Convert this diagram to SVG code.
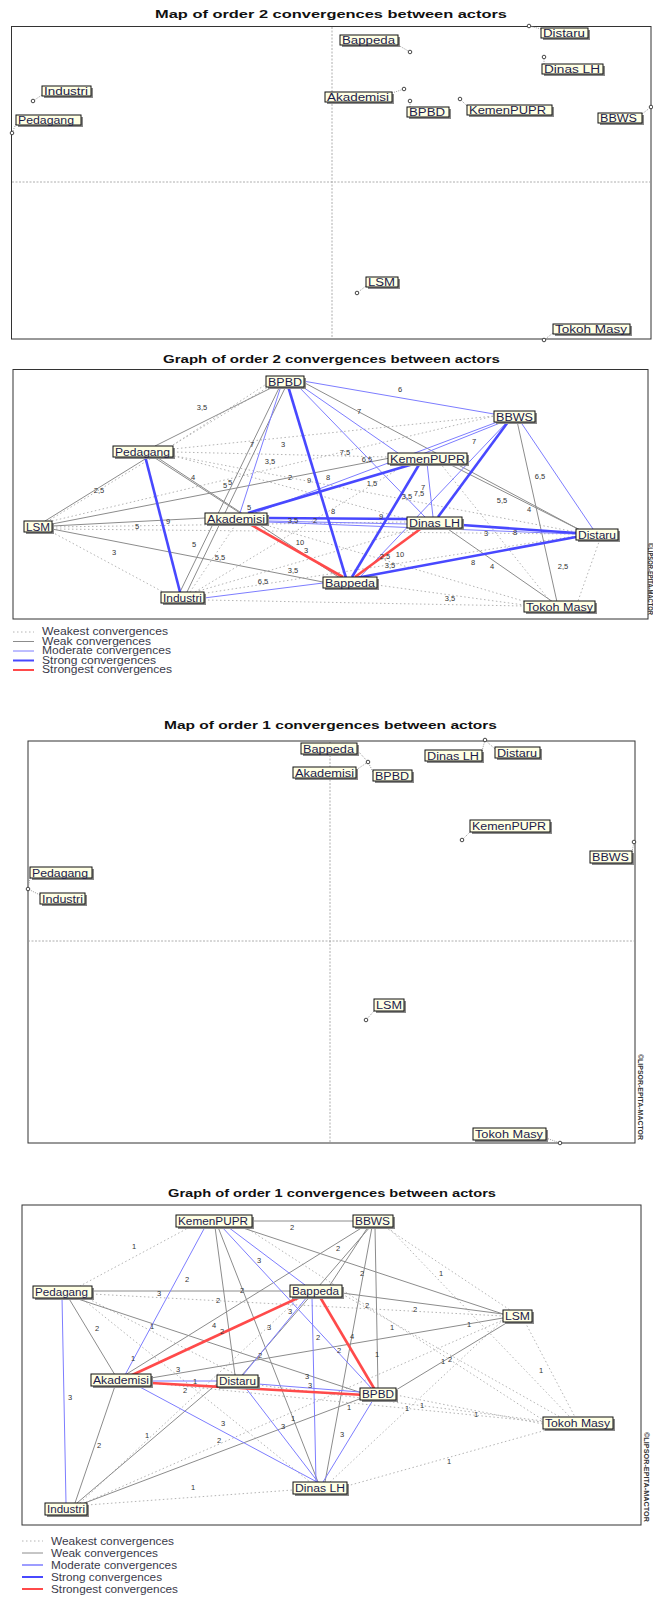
<svg xmlns="http://www.w3.org/2000/svg" width="653" height="1599" viewBox="0 0 653 1599">
<style>
text{font-family:"Liberation Sans",Arial,sans-serif}
.bg{fill:#fff}
.fr{fill:none;stroke:#333;stroke-width:1}
.ax{stroke:#9a9a9a;stroke-width:.8;stroke-dasharray:2,1.5}
.w0{stroke:#b4b4b4;stroke-width:1;stroke-dasharray:1.5,2.5;fill:none}
.w1{stroke:#8c8c8c;stroke-width:1;fill:none}
.w2{stroke:#7d7dff;stroke-width:1;fill:none}
.w3{stroke:#4848ff;stroke-width:2.6;fill:none}
.w4{stroke:#ff4a4a;stroke-width:2.6;fill:none}
.ld{stroke:#9a9a9a;stroke-width:1;stroke-dasharray:1,1.2}
.pt{fill:#fff;stroke:#444;stroke-width:1}
.sh{fill:#8a8a8a}
.nb{fill:#ffffe4;stroke:#111;stroke-width:1}
.nt{font-size:10px;fill:#1c1c4c}
.ti{font-size:11.5px;font-weight:bold;fill:#111}
.el{font-size:7.5px;fill:#333;text-anchor:middle}
.lg{font-size:10px;fill:#3a3a4a}
.wm{font-size:6.5px;font-weight:bold;fill:#333}
</style>
<rect class="bg" x="0" y="0" width="653" height="1599"/>

<!-- ===== Map of order 2 ===== -->
<text class="ti" x="155" y="18" textLength="352" lengthAdjust="spacingAndGlyphs">Map of order 2 convergences between actors</text>
<rect class="fr" x="11.5" y="26.5" width="639.5" height="312.5"/>
<line class="ax" x1="332" y1="27" x2="332" y2="339"/>
<line class="ax" x1="12" y1="182" x2="651" y2="182"/>
<g id="map2-leaders">
<line class="ld" x1="398" y1="45" x2="410" y2="52"/>
<line class="ld" x1="541" y1="29" x2="529" y2="26"/>
<line class="ld" x1="544" y1="64" x2="544" y2="57"/>
<line class="ld" x1="42" y1="95" x2="33" y2="101"/>
<line class="ld" x1="16" y1="124" x2="12" y2="133"/>
<line class="ld" x1="392" y1="93" x2="404" y2="89"/>
<line class="ld" x1="410" y1="107" x2="410" y2="101"/>
<line class="ld" x1="467" y1="106" x2="460" y2="99"/>
<line class="ld" x1="642" y1="114" x2="651" y2="107"/>
<line class="ld" x1="366" y1="286" x2="357" y2="293"/>
<line class="ld" x1="553" y1="333" x2="544" y2="340"/>
</g>
<g id="map2-points">
<circle class="pt" cx="410" cy="52" r="1.8"/>
<circle class="pt" cx="529" cy="26" r="1.8"/>
<circle class="pt" cx="544" cy="57" r="1.8"/>
<circle class="pt" cx="33" cy="101" r="1.8"/>
<circle class="pt" cx="12" cy="133" r="1.8"/>
<circle class="pt" cx="404" cy="89" r="1.8"/>
<circle class="pt" cx="410" cy="101" r="1.8"/>
<circle class="pt" cx="460" cy="99" r="1.8"/>
<circle class="pt" cx="651" cy="107" r="1.8"/>
<circle class="pt" cx="357" cy="293" r="1.8"/>
<circle class="pt" cx="544" cy="340" r="1.8"/>
</g>
<g id="map2-bappeda"><rect class="sh" x="342" y="37" width="58" height="10"/><rect class="nb" x="340" y="35" width="58" height="10"/><text class="nt" x="342" y="44" textLength="53" lengthAdjust="spacingAndGlyphs">Bappeda</text></g>
<g id="map2-distaru"><rect class="sh" x="543" y="30" width="47" height="10"/><rect class="nb" x="541" y="28" width="47" height="10"/><text class="nt" x="543" y="37" textLength="42" lengthAdjust="spacingAndGlyphs">Distaru</text></g>
<g id="map2-dinaslh"><rect class="sh" x="544" y="66" width="61" height="10"/><rect class="nb" x="542" y="64" width="61" height="10"/><text class="nt" x="544" y="73" textLength="56" lengthAdjust="spacingAndGlyphs">Dinas LH</text></g>
<g id="map2-industri"><rect class="sh" x="44" y="88" width="49" height="10"/><rect class="nb" x="42" y="86" width="49" height="10"/><text class="nt" x="44" y="95" textLength="44" lengthAdjust="spacingAndGlyphs">Industri</text></g>
<g id="map2-pedagang"><rect class="sh" x="18" y="117" width="65" height="10"/><rect class="nb" x="16" y="115" width="65" height="10"/><text class="nt" x="18" y="124" textLength="56" lengthAdjust="spacingAndGlyphs">Pedagang</text></g>
<g id="map2-akademisi"><rect class="sh" x="327" y="94" width="67" height="10"/><rect class="nb" x="325" y="92" width="67" height="10"/><text class="nt" x="327" y="101" textLength="62" lengthAdjust="spacingAndGlyphs">Akademisi</text></g>
<g id="map2-bpbd"><rect class="sh" x="409" y="109" width="42" height="10"/><rect class="nb" x="407" y="107" width="42" height="10"/><text class="nt" x="409" y="116" textLength="36" lengthAdjust="spacingAndGlyphs">BPBD</text></g>
<g id="map2-kemenpupr"><rect class="sh" x="469" y="107" width="85" height="10"/><rect class="nb" x="467" y="105" width="85" height="10"/><text class="nt" x="469" y="114" textLength="77" lengthAdjust="spacingAndGlyphs">KemenPUPR</text></g>
<g id="map2-bbws"><rect class="sh" x="600" y="115" width="44" height="10"/><rect class="nb" x="598" y="113" width="44" height="10"/><text class="nt" x="600" y="122" textLength="37" lengthAdjust="spacingAndGlyphs">BBWS</text></g>
<g id="map2-lsm"><rect class="sh" x="368" y="279" width="32" height="10"/><rect class="nb" x="366" y="277" width="32" height="10"/><text class="nt" x="368" y="286" textLength="27" lengthAdjust="spacingAndGlyphs">LSM</text></g>
<g id="map2-tokohmasy"><rect class="sh" x="555" y="326" width="77" height="10"/><rect class="nb" x="553" y="324" width="77" height="10"/><text class="nt" x="555" y="333" textLength="72" lengthAdjust="spacingAndGlyphs">Tokoh Masy</text></g>

<!-- ===== Graph of order 2 ===== -->
<text class="ti" x="163" y="363" textLength="337" lengthAdjust="spacingAndGlyphs">Graph of order 2 convergences between actors</text>
<rect class="fr" x="13" y="369.5" width="635" height="249.5"/>
<g id="graph2-connectors">
<line class="w0" x1="270" y1="386" x2="48" y2="521"/>
<line class="w0" x1="268" y1="383" x2="170" y2="447"/>
<line class="w0" x1="173" y1="452" x2="388" y2="457"/>
<line class="w0" x1="173" y1="449" x2="494" y2="416"/>
<line class="w0" x1="170" y1="455" x2="410" y2="520"/>
<line class="w0" x1="170" y1="455" x2="576" y2="532"/>
<line class="w0" x1="48" y1="530" x2="165" y2="593"/>
<line class="w0" x1="52" y1="527" x2="407" y2="522"/>
<line class="w0" x1="52" y1="529" x2="576" y2="534"/>
<line class="w0" x1="52" y1="521" x2="494" y2="416"/>
<line class="w0" x1="195" y1="592" x2="420" y2="527"/>
<line class="w0" x1="200" y1="594" x2="576" y2="536"/>
<line class="w0" x1="195" y1="592" x2="410" y2="462"/>
<line class="w0" x1="204" y1="600" x2="524" y2="606"/>
<line class="w0" x1="377" y1="585" x2="524" y2="605"/>
<line class="w0" x1="600" y1="539" x2="578" y2="601"/>
<line class="w0" x1="262" y1="524" x2="530" y2="603"/>
<line class="w0" x1="440" y1="463" x2="550" y2="601"/>
<line class="w0" x1="190" y1="592" x2="236" y2="524"/>
<line class="w1" x1="275" y1="386" x2="155" y2="446"/>
<line class="w1" x1="280" y1="386" x2="180" y2="592"/>
<line class="w1" x1="286" y1="386" x2="187" y2="592"/>
<line class="w1" x1="303" y1="382" x2="580" y2="530"/>
<line class="w1" x1="150" y1="456" x2="45" y2="521"/>
<line class="w1" x1="152" y1="456" x2="240" y2="513"/>
<line class="w1" x1="155" y1="456" x2="340" y2="578"/>
<line class="w1" x1="52" y1="524" x2="390" y2="458"/>
<line class="w1" x1="52" y1="526" x2="205" y2="518"/>
<line class="w1" x1="52" y1="529" x2="323" y2="582"/>
<line class="w1" x1="445" y1="462" x2="580" y2="530"/>
<line class="w1" x1="517" y1="421" x2="557" y2="602"/>
<line class="w1" x1="445" y1="527" x2="553" y2="602"/>
<line class="w2" x1="303" y1="381" x2="494" y2="414"/>
<line class="w2" x1="298" y1="386" x2="425" y2="517"/>
<line class="w2" x1="300" y1="385" x2="398" y2="453"/>
<line class="w2" x1="281" y1="386" x2="240" y2="513"/>
<line class="w2" x1="520" y1="421" x2="593" y2="529"/>
<line class="w2" x1="505" y1="421" x2="420" y2="455"/>
<line class="w2" x1="500" y1="421" x2="255" y2="513"/>
<line class="w2" x1="508" y1="421" x2="360" y2="577"/>
<line class="w2" x1="427" y1="463" x2="433" y2="517"/>
<line class="w2" x1="204" y1="598" x2="323" y2="583"/>
<line class="w2" x1="267" y1="522" x2="576" y2="534"/>
<line class="w2" x1="267" y1="521" x2="407" y2="524"/>
<line class="w3" x1="145" y1="456" x2="180" y2="592"/>
<line class="w3" x1="288" y1="386" x2="346" y2="578"/>
<line class="w3" x1="248" y1="513" x2="420" y2="462"/>
<line class="w3" x1="267" y1="518" x2="407" y2="519"/>
<line class="w3" x1="420" y1="463" x2="352" y2="577"/>
<line class="w3" x1="508" y1="422" x2="438" y2="517"/>
<line class="w3" x1="462" y1="525" x2="576" y2="533"/>
<line class="w3" x1="356" y1="578" x2="576" y2="537"/>
<line class="w4" x1="248" y1="523" x2="343" y2="577"/>
<line class="w4" x1="423" y1="527" x2="355" y2="577"/>
<g id="graph2-edge-labels">
<text class="el" x="202" y="410">3,5</text>
<text class="el" x="252" y="447">7</text>
<text class="el" x="283" y="447">3</text>
<text class="el" x="270" y="464">3,5</text>
<text class="el" x="193" y="480">4</text>
<text class="el" x="225" y="488">5</text>
<text class="el" x="230" y="485">5</text>
<text class="el" x="290" y="480">2</text>
<text class="el" x="309" y="483">9</text>
<text class="el" x="328" y="480">8</text>
<text class="el" x="99" y="493">2,5</text>
<text class="el" x="249" y="510">5</text>
<text class="el" x="168" y="524">9</text>
<text class="el" x="137" y="529">5</text>
<text class="el" x="293" y="523">3,5</text>
<text class="el" x="315" y="523">2</text>
<text class="el" x="194" y="547">5</text>
<text class="el" x="114" y="555">3</text>
<text class="el" x="300" y="545">10</text>
<text class="el" x="306" y="553">3</text>
<text class="el" x="220" y="560">5,5</text>
<text class="el" x="293" y="573">3,5</text>
<text class="el" x="263" y="584">6,5</text>
<text class="el" x="400" y="392">6</text>
<text class="el" x="359" y="414">7</text>
<text class="el" x="474" y="444">7</text>
<text class="el" x="345" y="455">7,5</text>
<text class="el" x="367" y="462">6,5</text>
<text class="el" x="540" y="479">6,5</text>
<text class="el" x="372" y="486">1,5</text>
<text class="el" x="423" y="490">7</text>
<text class="el" x="407" y="499">3,5</text>
<text class="el" x="419" y="496">7,5</text>
<text class="el" x="502" y="503">5,5</text>
<text class="el" x="529" y="512">4</text>
<text class="el" x="333" y="514">8</text>
<text class="el" x="381" y="519">9</text>
<text class="el" x="486" y="536">3</text>
<text class="el" x="515" y="535">8</text>
<text class="el" x="385" y="559">2,5</text>
<text class="el" x="400" y="557">10</text>
<text class="el" x="390" y="568">3,5</text>
<text class="el" x="473" y="565">8</text>
<text class="el" x="492" y="569">4</text>
<text class="el" x="563" y="569">2,5</text>
<text class="el" x="450" y="601">3,5</text>
</g>
</g>
<g id="g2-bpbd"><rect class="sh" x="268" y="378" width="38" height="11"/><rect class="nb" x="266" y="376" width="38" height="11"/><text class="nt" x="268" y="385.5" textLength="34" lengthAdjust="spacingAndGlyphs">BPBD</text></g>
<g id="g2-pedagang"><rect class="sh" x="115" y="448" width="60" height="11"/><rect class="nb" x="113" y="446" width="60" height="11"/><text class="nt" x="115" y="455.5" textLength="55" lengthAdjust="spacingAndGlyphs">Pedagang</text></g>
<g id="g2-lsm"><rect class="sh" x="26" y="523" width="28" height="11"/><rect class="nb" x="24" y="521" width="28" height="11"/><text class="nt" x="26" y="530.5" textLength="24" lengthAdjust="spacingAndGlyphs">LSM</text></g>
<g id="g2-akademisi"><rect class="sh" x="207" y="515" width="62" height="11"/><rect class="nb" x="205" y="513" width="62" height="11"/><text class="nt" x="207" y="522.5" textLength="58" lengthAdjust="spacingAndGlyphs">Akademisi</text></g>
<g id="g2-industri"><rect class="sh" x="163" y="594" width="43" height="11"/><rect class="nb" x="161" y="592" width="43" height="11"/><text class="nt" x="163" y="601.5" textLength="39" lengthAdjust="spacingAndGlyphs">Industri</text></g>
<g id="g2-bbws"><rect class="sh" x="496" y="413" width="41" height="11"/><rect class="nb" x="494" y="411" width="41" height="11"/><text class="nt" x="496" y="420.5" textLength="37" lengthAdjust="spacingAndGlyphs">BBWS</text></g>
<g id="g2-kemenpupr"><rect class="sh" x="390" y="455" width="79" height="11"/><rect class="nb" x="388" y="453" width="79" height="11"/><text class="nt" x="390" y="462.5" textLength="75" lengthAdjust="spacingAndGlyphs">KemenPUPR</text></g>
<g id="g2-dinaslh"><rect class="sh" x="409" y="519" width="55" height="11"/><rect class="nb" x="407" y="517" width="55" height="11"/><text class="nt" x="409" y="526.5" textLength="51" lengthAdjust="spacingAndGlyphs">Dinas LH</text></g>
<g id="g2-distaru"><rect class="sh" x="578" y="531" width="42" height="11"/><rect class="nb" x="576" y="529" width="42" height="11"/><text class="nt" x="578" y="538.5" textLength="38" lengthAdjust="spacingAndGlyphs">Distaru</text></g>
<g id="g2-bappeda"><rect class="sh" x="325" y="579" width="54" height="11"/><rect class="nb" x="323" y="577" width="54" height="11"/><text class="nt" x="325" y="586.5" textLength="50" lengthAdjust="spacingAndGlyphs">Bappeda</text></g>
<g id="g2-tokohmasy"><rect class="sh" x="526" y="603" width="71" height="11"/><rect class="nb" x="524" y="601" width="71" height="11"/><text class="nt" x="526" y="610.5" textLength="67" lengthAdjust="spacingAndGlyphs">Tokoh Masy</text></g>
<text class="wm" transform="translate(648,543) rotate(90)" textLength="72" lengthAdjust="spacingAndGlyphs">©LIPSOR-EPITA-MACTOR</text>
<g id="g2-legend">
<line class="w0" x1="13" y1="632" x2="34" y2="632"/>
<line class="w1" x1="13" y1="641.5" x2="34" y2="641.5"/>
<line class="w2" x1="13" y1="651" x2="34" y2="651"/>
<line class="w3" x1="13" y1="660.5" x2="34" y2="660.5" style="stroke-width:2"/>
<line class="w4" x1="13" y1="670" x2="34" y2="670" style="stroke-width:2"/>
<text class="lg" x="42" y="635" textLength="126" lengthAdjust="spacingAndGlyphs">Weakest convergences</text>
<text class="lg" x="42" y="644.5" textLength="109" lengthAdjust="spacingAndGlyphs">Weak convergences</text>
<text class="lg" x="42" y="654" textLength="129" lengthAdjust="spacingAndGlyphs">Moderate convergences</text>
<text class="lg" x="42" y="663.5" textLength="114" lengthAdjust="spacingAndGlyphs">Strong convergences</text>
<text class="lg" x="42" y="673" textLength="130" lengthAdjust="spacingAndGlyphs">Strongest convergences</text>
</g>

<!-- ===== Map of order 1 ===== -->
<text class="ti" x="164" y="729" textLength="333" lengthAdjust="spacingAndGlyphs">Map of order 1 convergences between actors</text>
<rect class="fr" x="28" y="741" width="607" height="402"/>
<line class="ax" x1="330" y1="741" x2="330" y2="1143"/>
<line class="ax" x1="28" y1="941" x2="635" y2="941"/>
<g id="map1-leaders">
<line class="ld" x1="357" y1="750" x2="368" y2="762"/>
<line class="ld" x1="356" y1="770" x2="368" y2="762"/>
<line class="ld" x1="373" y1="772" x2="368" y2="762"/>
<line class="ld" x1="482" y1="751" x2="485" y2="740"/>
<line class="ld" x1="495" y1="749" x2="485" y2="740"/>
<line class="ld" x1="470" y1="832" x2="462" y2="840"/>
<line class="ld" x1="632" y1="852" x2="634" y2="842"/>
<line class="ld" x1="30" y1="878" x2="28" y2="889"/>
<line class="ld" x1="40" y1="895" x2="28" y2="889"/>
<line class="ld" x1="374" y1="1011" x2="366" y2="1020"/>
<line class="ld" x1="546" y1="1138" x2="560" y2="1143"/>
</g>
<g id="map1-points">
<circle class="pt" cx="368" cy="762" r="1.8"/>
<circle class="pt" cx="485" cy="740" r="1.8"/>
<circle class="pt" cx="462" cy="840" r="1.8"/>
<circle class="pt" cx="634" cy="842" r="1.8"/>
<circle class="pt" cx="28" cy="889" r="1.8"/>
<circle class="pt" cx="366" cy="1020" r="1.8"/>
<circle class="pt" cx="560" cy="1143" r="1.8"/>
</g>
<g id="map1-bappeda"><rect class="sh" x="303" y="745" width="56" height="11"/><rect class="nb" x="301" y="743" width="56" height="11"/><text class="nt" x="303" y="752.5" textLength="51" lengthAdjust="spacingAndGlyphs">Bappeda</text></g>
<g id="map1-akademisi"><rect class="sh" x="295" y="769" width="63" height="11"/><rect class="nb" x="293" y="767" width="63" height="11"/><text class="nt" x="295" y="776.5" textLength="59" lengthAdjust="spacingAndGlyphs">Akademisi</text></g>
<g id="map1-bpbd"><rect class="sh" x="375" y="772" width="39" height="11"/><rect class="nb" x="373" y="770" width="39" height="11"/><text class="nt" x="375" y="779.5" textLength="34" lengthAdjust="spacingAndGlyphs">BPBD</text></g>
<g id="map1-dinaslh"><rect class="sh" x="427" y="752" width="57" height="11"/><rect class="nb" x="425" y="750" width="57" height="11"/><text class="nt" x="427" y="759.5" textLength="52" lengthAdjust="spacingAndGlyphs">Dinas LH</text></g>
<g id="map1-distaru"><rect class="sh" x="497" y="749" width="45" height="11"/><rect class="nb" x="495" y="747" width="45" height="11"/><text class="nt" x="497" y="756.5" textLength="40" lengthAdjust="spacingAndGlyphs">Distaru</text></g>
<g id="map1-kemenpupr"><rect class="sh" x="472" y="822" width="80" height="12"/><rect class="nb" x="470" y="820" width="80" height="12"/><text class="nt" x="472" y="830" textLength="74" lengthAdjust="spacingAndGlyphs">KemenPUPR</text></g>
<g id="map1-bbws"><rect class="sh" x="592" y="853" width="42" height="12"/><rect class="nb" x="590" y="851" width="42" height="12"/><text class="nt" x="592" y="861" textLength="37" lengthAdjust="spacingAndGlyphs">BBWS</text></g>
<g id="map1-pedagang"><rect class="sh" x="32" y="869" width="62" height="11"/><rect class="nb" x="30" y="867" width="62" height="11"/><text class="nt" x="32" y="876.5" textLength="56" lengthAdjust="spacingAndGlyphs">Pedagang</text></g>
<g id="map1-industri"><rect class="sh" x="42" y="895" width="45" height="11"/><rect class="nb" x="40" y="893" width="45" height="11"/><text class="nt" x="42" y="902.5" textLength="41" lengthAdjust="spacingAndGlyphs">Industri</text></g>
<g id="map1-lsm"><rect class="sh" x="376" y="1001" width="30" height="12"/><rect class="nb" x="374" y="999" width="30" height="12"/><text class="nt" x="376" y="1009" textLength="26" lengthAdjust="spacingAndGlyphs">LSM</text></g>
<g id="map1-tokohmasy"><rect class="sh" x="475" y="1130" width="73" height="12"/><rect class="nb" x="473" y="1128" width="73" height="12"/><text class="nt" x="475" y="1138" textLength="68" lengthAdjust="spacingAndGlyphs">Tokoh Masy</text></g>
<text class="wm" transform="translate(638,1054) rotate(90)" textLength="86" lengthAdjust="spacingAndGlyphs">©LIPSOR-EPITA-MACTOR</text>

<!-- ===== Graph of order 1 ===== -->
<text class="ti" x="168" y="1197" textLength="328" lengthAdjust="spacingAndGlyphs">Graph of order 1 convergences between actors</text>
<rect class="fr" x="22" y="1205" width="619" height="320"/>
<g id="graph1-connectors">
<line class="w0" x1="190" y1="1227" x2="80" y2="1286"/>
<line class="w0" x1="245" y1="1227" x2="543" y2="1420"/>
<line class="w0" x1="385" y1="1227" x2="510" y2="1310"/>
<line class="w0" x1="388" y1="1227" x2="570" y2="1417"/>
<line class="w0" x1="92" y1="1294" x2="503" y2="1316"/>
<line class="w0" x1="85" y1="1297" x2="237" y2="1375"/>
<line class="w0" x1="80" y1="1297" x2="310" y2="1482"/>
<line class="w0" x1="87" y1="1505" x2="293" y2="1490"/>
<line class="w0" x1="80" y1="1503" x2="300" y2="1297"/>
<line class="w0" x1="82" y1="1504" x2="503" y2="1320"/>
<line class="w0" x1="347" y1="1486" x2="550" y2="1429"/>
<line class="w0" x1="396" y1="1395" x2="543" y2="1424"/>
<line class="w0" x1="151" y1="1383" x2="543" y2="1422"/>
<line class="w0" x1="258" y1="1385" x2="543" y2="1421"/>
<line class="w0" x1="525" y1="1322" x2="575" y2="1417"/>
<line class="w0" x1="342" y1="1294" x2="560" y2="1417"/>
<line class="w0" x1="330" y1="1482" x2="503" y2="1320"/>
<line class="w1" x1="252" y1="1221" x2="353" y2="1221"/>
<line class="w1" x1="240" y1="1227" x2="503" y2="1314"/>
<line class="w1" x1="215" y1="1227" x2="235" y2="1375"/>
<line class="w1" x1="218" y1="1227" x2="318" y2="1482"/>
<line class="w1" x1="363" y1="1227" x2="125" y2="1375"/>
<line class="w1" x1="368" y1="1227" x2="330" y2="1285"/>
<line class="w1" x1="372" y1="1227" x2="325" y2="1482"/>
<line class="w1" x1="375" y1="1227" x2="378" y2="1388"/>
<line class="w1" x1="370" y1="1227" x2="242" y2="1375"/>
<line class="w1" x1="92" y1="1291" x2="290" y2="1291"/>
<line class="w1" x1="68" y1="1297" x2="115" y2="1375"/>
<line class="w1" x1="72" y1="1297" x2="362" y2="1393"/>
<line class="w1" x1="342" y1="1293" x2="503" y2="1314"/>
<line class="w1" x1="151" y1="1378" x2="503" y2="1318"/>
<line class="w1" x1="75" y1="1503" x2="115" y2="1386"/>
<line class="w1" x1="77" y1="1503" x2="225" y2="1377"/>
<line class="w1" x1="82" y1="1504" x2="362" y2="1398"/>
<line class="w1" x1="508" y1="1322" x2="396" y2="1390"/>
<line class="w2" x1="205" y1="1227" x2="125" y2="1375"/>
<line class="w2" x1="222" y1="1227" x2="373" y2="1390"/>
<line class="w2" x1="228" y1="1227" x2="305" y2="1285"/>
<line class="w2" x1="62" y1="1297" x2="66" y2="1503"/>
<line class="w2" x1="312" y1="1297" x2="316" y2="1482"/>
<line class="w2" x1="307" y1="1297" x2="243" y2="1375"/>
<line class="w2" x1="151" y1="1381" x2="217" y2="1381"/>
<line class="w2" x1="138" y1="1386" x2="317" y2="1482"/>
<line class="w2" x1="245" y1="1387" x2="318" y2="1482"/>
<line class="w2" x1="373" y1="1400" x2="323" y2="1482"/>
<line class="w2" x1="258" y1="1384" x2="360" y2="1392"/>
<line class="w4" x1="130" y1="1376" x2="300" y2="1297"/>
<line class="w4" x1="320" y1="1297" x2="375" y2="1390"/>
<line class="w4" x1="151" y1="1383" x2="365" y2="1395"/>
<g id="graph1-edge-labels">
<text class="el" x="134" y="1249">1</text>
<text class="el" x="292" y="1230">2</text>
<text class="el" x="259" y="1263">3</text>
<text class="el" x="187" y="1282">2</text>
<text class="el" x="159" y="1296">3</text>
<text class="el" x="242" y="1293">2</text>
<text class="el" x="218" y="1303">2</text>
<text class="el" x="290" y="1314">3</text>
<text class="el" x="97" y="1331">2</text>
<text class="el" x="152" y="1329">1</text>
<text class="el" x="214" y="1328">4</text>
<text class="el" x="222" y="1334">2</text>
<text class="el" x="269" y="1330">3</text>
<text class="el" x="133" y="1361">1</text>
<text class="el" x="260" y="1358">2</text>
<text class="el" x="178" y="1372">3</text>
<text class="el" x="307" y="1379">3</text>
<text class="el" x="338" y="1251">2</text>
<text class="el" x="362" y="1276">2</text>
<text class="el" x="367" y="1308">2</text>
<text class="el" x="415" y="1312">2</text>
<text class="el" x="392" y="1330">1</text>
<text class="el" x="318" y="1340">2</text>
<text class="el" x="352" y="1339">4</text>
<text class="el" x="339" y="1353">2</text>
<text class="el" x="377" y="1357">1</text>
<text class="el" x="310" y="1388">3</text>
<text class="el" x="441" y="1276">1</text>
<text class="el" x="469" y="1327">1</text>
<text class="el" x="443" y="1364">1</text>
<text class="el" x="450" y="1362">2</text>
<text class="el" x="541" y="1373">1</text>
<text class="el" x="195" y="1384">1</text>
<text class="el" x="185" y="1393">2</text>
<text class="el" x="70" y="1400">3</text>
<text class="el" x="223" y="1426">3</text>
<text class="el" x="147" y="1438">1</text>
<text class="el" x="99" y="1448">2</text>
<text class="el" x="219" y="1443">2</text>
<text class="el" x="293" y="1421">1</text>
<text class="el" x="283" y="1429">3</text>
<text class="el" x="193" y="1490">1</text>
<text class="el" x="349" y="1410">1</text>
<text class="el" x="407" y="1411">1</text>
<text class="el" x="422" y="1408">1</text>
<text class="el" x="476" y="1417">1</text>
<text class="el" x="342" y="1437">3</text>
<text class="el" x="449" y="1464">1</text>
</g>
</g>
<g id="g1-kemenpupr"><rect class="sh" x="178" y="1217" width="76" height="12"/><rect class="nb" x="176" y="1215" width="76" height="12"/><text class="nt" x="178" y="1225" textLength="70" lengthAdjust="spacingAndGlyphs">KemenPUPR</text></g>
<g id="g1-bbws"><rect class="sh" x="355" y="1217" width="40" height="12"/><rect class="nb" x="353" y="1215" width="40" height="12"/><text class="nt" x="355" y="1225" textLength="35" lengthAdjust="spacingAndGlyphs">BBWS</text></g>
<g id="g1-pedagang"><rect class="sh" x="35" y="1288" width="59" height="12"/><rect class="nb" x="33" y="1286" width="59" height="12"/><text class="nt" x="35" y="1296" textLength="53" lengthAdjust="spacingAndGlyphs">Pedagang</text></g>
<g id="g1-bappeda"><rect class="sh" x="292" y="1287" width="52" height="12"/><rect class="nb" x="290" y="1285" width="52" height="12"/><text class="nt" x="292" y="1295" textLength="47" lengthAdjust="spacingAndGlyphs">Bappeda</text></g>
<g id="g1-lsm"><rect class="sh" x="505" y="1312" width="29" height="12"/><rect class="nb" x="503" y="1310" width="29" height="12"/><text class="nt" x="505" y="1320" textLength="25" lengthAdjust="spacingAndGlyphs">LSM</text></g>
<g id="g1-akademisi"><rect class="sh" x="93" y="1376" width="60" height="12"/><rect class="nb" x="91" y="1374" width="60" height="12"/><text class="nt" x="93" y="1384" textLength="56" lengthAdjust="spacingAndGlyphs">Akademisi</text></g>
<g id="g1-distaru"><rect class="sh" x="219" y="1377" width="41" height="12"/><rect class="nb" x="217" y="1375" width="41" height="12"/><text class="nt" x="219" y="1385" textLength="37" lengthAdjust="spacingAndGlyphs">Distaru</text></g>
<g id="g1-bpbd"><rect class="sh" x="362" y="1390" width="36" height="12"/><rect class="nb" x="360" y="1388" width="36" height="12"/><text class="nt" x="362" y="1398" textLength="32" lengthAdjust="spacingAndGlyphs">BPBD</text></g>
<g id="g1-tokohmasy"><rect class="sh" x="545" y="1419" width="70" height="12"/><rect class="nb" x="543" y="1417" width="70" height="12"/><text class="nt" x="545" y="1427" textLength="65" lengthAdjust="spacingAndGlyphs">Tokoh Masy</text></g>
<g id="g1-dinaslh"><rect class="sh" x="295" y="1484" width="54" height="12"/><rect class="nb" x="293" y="1482" width="54" height="12"/><text class="nt" x="295" y="1492" textLength="50" lengthAdjust="spacingAndGlyphs">Dinas LH</text></g>
<g id="g1-industri"><rect class="sh" x="47" y="1505" width="42" height="12"/><rect class="nb" x="45" y="1503" width="42" height="12"/><text class="nt" x="47" y="1513" textLength="38" lengthAdjust="spacingAndGlyphs">Industri</text></g>
<text class="wm" transform="translate(644,1432) rotate(90)" textLength="90" lengthAdjust="spacingAndGlyphs">©LIPSOR-EPITA-MACTOR</text>
<g id="g1-legend">
<line class="w0" x1="22" y1="1541" x2="43" y2="1541"/>
<line class="w1" x1="22" y1="1553" x2="43" y2="1553"/>
<line class="w2" x1="22" y1="1565" x2="43" y2="1565" style="stroke-width:1.5"/>
<line class="w3" x1="22" y1="1577" x2="43" y2="1577" style="stroke-width:2"/>
<line class="w4" x1="22" y1="1589" x2="43" y2="1589" style="stroke-width:2"/>
<text class="lg" x="51" y="1545" style="font-size:11px" textLength="123" lengthAdjust="spacingAndGlyphs">Weakest convergences</text>
<text class="lg" x="51" y="1557" style="font-size:11px" textLength="107" lengthAdjust="spacingAndGlyphs">Weak convergences</text>
<text class="lg" x="51" y="1569" style="font-size:11px" textLength="126" lengthAdjust="spacingAndGlyphs">Moderate convergences</text>
<text class="lg" x="51" y="1581" style="font-size:11px" textLength="111" lengthAdjust="spacingAndGlyphs">Strong convergences</text>
<text class="lg" x="51" y="1593" style="font-size:11px" textLength="127" lengthAdjust="spacingAndGlyphs">Strongest convergences</text>
</g>
</svg>
